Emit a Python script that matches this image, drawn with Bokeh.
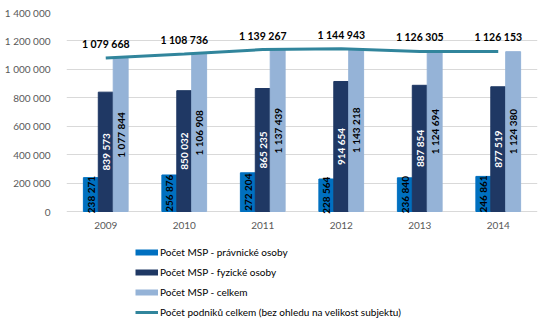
import math
from bokeh.plotting import figure
from bokeh.models import (ColumnDataSource, FactorRange, Range1d, Legend, LegendItem,
                          FixedTicker)
from bokeh.transform import dodge
from bokeh.core.properties import value
from bokeh.embed import file_html
from bokeh.resources import INLINE

years = ["2009", "2010", "2011", "2012", "2013", "2014"]
msp_pravnicke = [238271, 256876, 272204, 228564, 236840, 246861]
msp_fyzicke = [839573, 850032, 865235, 914654, 887854, 877519]
msp_celkem = [1077844, 1106908, 1137439, 1143218, 1124694, 1124380]
podniky_celkem = [1079668, 1108736, 1139267, 1144943, 1126305, 1126153]

y_ticks = [0, 200000, 400000, 600000, 800000, 1000000, 1200000, 1400000]
y_tick_labels = ["0", "200 000", "400 000", "600 000", "800 000", "1 000 000", "1 200 000", "1 400 000"]

series_names = ["Počet MSP - právnické osoby", "Počet MSP - fyzické osoby", "Počet MSP - celkem"]
line_name = "Počet podniků celkem (bez ohledu na velikost subjektu)"

def fmt(v):
    return f"{v:,}".replace(",", " ")

src = ColumnDataSource(dict(
    years=years,
    zero=[0] * len(years),
    a=msp_pravnicke, b=msp_fyzicke, c=msp_celkem, tot=podniky_celkem,
    a_h=[v / 2 for v in msp_pravnicke],
    b_h=[v / 2 for v in msp_fyzicke],
    c_h=[v / 2 for v in msp_celkem],
    a_l=[fmt(v) for v in msp_pravnicke],
    b_l=[fmt(v) for v in msp_fyzicke],
    c_l=[fmt(v) for v in msp_celkem],
    tot_l=[fmt(v) for v in podniky_celkem],
))

FONT = "Lato"
c_blue = "#0070C0"
c_dark = "#1F3864"
c_light = "#95B3D7"
c_line = "#31859C"

# frame spans from y=12 to the bottom of the canvas; value 0 sits 115px above the bottom
y_max = 1400000
y_min = -y_max * 115 / 199

p = figure(width=548, height=326, x_range=FactorRange(*years, range_padding=0),
           y_range=Range1d(y_min, y_max), output_backend="svg", toolbar_location=None,
           x_axis_location=None,
           min_border_left=66, min_border_right=11, min_border_top=12, min_border_bottom=0)
p.outline_line_color = None
p.background_fill_color = "white"
p.border_fill_color = "white"

bw = 0.19
p.vbar(x=dodge("years", -bw, range=p.x_range), top="a", width=bw, source=src, color=c_blue)
p.vbar(x=dodge("years", 0, range=p.x_range), top="b", width=bw, source=src, color=c_dark)
p.vbar(x=dodge("years", bw, range=p.x_range), top="c", width=bw, source=src, color=c_light)
rl = p.line(x="years", y="tot", source=src, line_color=c_line, line_width=3)

lab_kw = dict(source=src, angle=math.pi / 2, text_align="center", text_baseline="middle",
              text_font=value(FONT), text_font_style="bold", text_font_size="10px")
p.text(x=dodge("years", -bw, range=p.x_range), y="a_h", text="a_l", text_color="black", **lab_kw)
p.text(x=dodge("years", 0, range=p.x_range), y="b_h", text="b_l", text_color="white", **lab_kw)
p.text(x=dodge("years", bw, range=p.x_range), y="c_h", text="c_l", text_color="black", **lab_kw)
p.text(x="years", y="tot", text="tot_l", source=src, y_offset=-14, text_align="center",
       text_baseline="middle", text_font=value(FONT), text_font_style="bold",
       text_font_size="10.5px", text_color="black")

# category labels (x axis)
p.text(x="years", y="zero", text="years", source=src, y_offset=14, text_align="center",
       text_baseline="middle", text_font=value(FONT), text_font_size="10px",
       text_color="#595959")

p.yaxis.ticker = FixedTicker(ticks=y_ticks)
p.yaxis.major_label_overrides = {t: l for t, l in zip(y_ticks, y_tick_labels)}
p.yaxis.axis_line_color = None
p.yaxis.major_tick_line_color = None
p.yaxis.minor_tick_line_color = None
p.yaxis.major_label_standoff = 10
p.yaxis.major_label_text_font = FONT
p.yaxis.major_label_text_font_size = "10px"
p.yaxis.major_label_text_color = "#595959"
p.xgrid.grid_line_color = None
p.ygrid.ticker = FixedTicker(ticks=y_ticks)
p.ygrid.grid_line_color = "#D9D9D9"
p.ygrid.grid_line_width = 1

# legend proxies (a single undrawn point each)
nan = float("nan")
d1 = p.line(x=[years[0]], y=[nan], line_color=c_blue, line_width=6)
d2 = p.line(x=[years[0]], y=[nan], line_color=c_dark, line_width=6)
d3 = p.line(x=[years[0]], y=[nan], line_color=c_light, line_width=6)
legend = Legend(items=[LegendItem(label=series_names[0], renderers=[d1]),
                       LegendItem(label=series_names[1], renderers=[d2]),
                       LegendItem(label=series_names[2], renderers=[d3]),
                       LegendItem(label=line_name, renderers=[rl])],
                orientation="vertical", location=(69, 7), glyph_width=23, glyph_height=14,
                label_standoff=2, spacing=6, label_height=14, padding=2, margin=0,
                label_text_font=FONT, label_text_font_size="10px", label_text_color="black",
                border_line_color=None, background_fill_alpha=0)
p.add_layout(legend, "center")

open("out.html", "w").write(file_html(p, INLINE))
